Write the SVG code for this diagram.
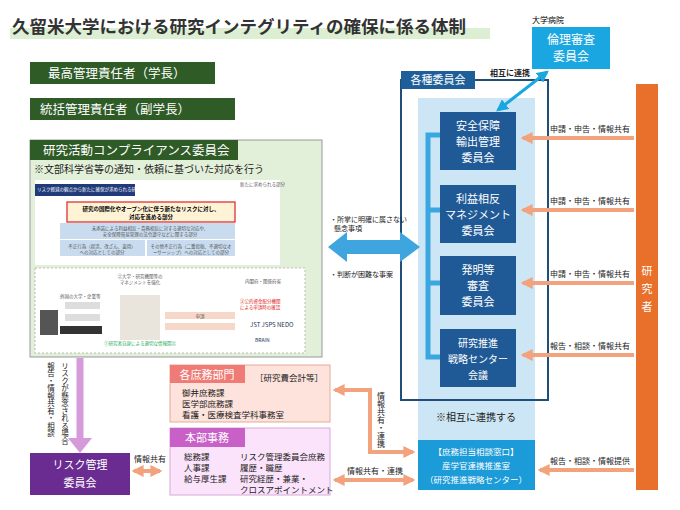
<svg xmlns="http://www.w3.org/2000/svg" width="680" height="510" viewBox="0 0 680 510">
<style>
text{font-family:"Noto Sans CJK JP","Noto Sans",sans-serif}
.w{fill:#fff}
.dg{fill:#2f5b27}
.cm{fill:#1f5a96}
.oa{stroke:#f2a27c;stroke-width:4;fill:none}
.lbl{font-size:8px;fill:#222}
.t12{font-size:12px}
.tiny{font-size:4.5px;fill:#555}
</style>
<defs>
<marker id="oh" viewBox="0 0 10 10" refX="8" refY="5" markerWidth="3" markerHeight="3" orient="auto-start-reverse"><path d="M0,0L10,5L0,10z" fill="#f2a27c"/></marker>
<marker id="bh" viewBox="0 0 10 10" refX="8" refY="5" markerWidth="4" markerHeight="4" orient="auto-start-reverse"><path d="M0,0L10,5L0,10z" fill="#1aa6e0"/></marker>
</defs>
<rect x="10" y="28" width="480" height="11" fill="#dcefd3"/>
<text x="12" y="33" font-size="17.5" font-weight="bold" fill="#333">久留米大学における研究インテグリティの確保に係る体制</text>

<g id="hosp"><text x="532" y="23" font-size="8">大学病院</text>
<rect x="532" y="27" width="78" height="42" fill="#1aa6e0"/>
<text x="571" y="44" text-anchor="middle" class="w t12">倫理審査</text><text x="571" y="61" text-anchor="middle" class="w t12">委員会</text></g>

<g id="panel">
<rect x="418" y="98" width="117" height="342" fill="#cde6f5"/>
<rect x="401" y="80" width="147" height="320" fill="none" stroke="#1f4e79" stroke-width="2"/>
<rect x="401" y="71" width="74" height="18" fill="#1f5f99"/>
<text x="438" y="84" text-anchor="middle" class="w" font-size="11">各種委員会</text>
<path d="M440,135H428V357H440M428,210H440M428,283H440" stroke="#3aa7e0" stroke-width="5" fill="none"/>
<text x="476" y="421" text-anchor="middle" font-size="10" fill="#222">※相互に連携する</text>
</g>
<g id="c1"><rect x="440" y="112" width="76" height="58" class="cm"/><text x="478" y="130" text-anchor="middle" class="w" font-size="11">安全保障</text><text x="478" y="146" text-anchor="middle" class="w" font-size="11">輸出管理</text><text x="478" y="162" text-anchor="middle" class="w" font-size="11">委員会</text></g>
<g id="c2"><rect x="440" y="185" width="76" height="58" class="cm"/><text x="478" y="203" text-anchor="middle" class="w" font-size="11">利益相反</text><text x="478" y="219" text-anchor="middle" class="w" font-size="11">マネジメント</text><text x="478" y="235" text-anchor="middle" class="w" font-size="11">委員会</text></g>
<g id="c3"><rect x="440" y="256" width="76" height="59" class="cm"/><text x="478" y="274" text-anchor="middle" class="w" font-size="11">発明等</text><text x="478" y="290" text-anchor="middle" class="w" font-size="11">審査</text><text x="478" y="306" text-anchor="middle" class="w" font-size="11">委員会</text></g>
<g id="c4"><rect x="440" y="329" width="76" height="58" class="cm"/><text x="478" y="347" text-anchor="middle" class="w" font-size="10">研究推進</text><text x="478" y="363" text-anchor="middle" class="w" font-size="10">戦略センター</text><text x="478" y="379" text-anchor="middle" class="w" font-size="10">会議</text></g>
<g id="desk"><rect x="418" y="440" width="117" height="50" fill="#1b9bd7"/>
<text x="476" y="455" text-anchor="middle" class="w" font-size="8.5">【庶務担当相談窓口】</text>
<text x="476" y="469" text-anchor="middle" class="w" font-size="8.5">産学官連携推進室</text>
<text x="476" y="483" text-anchor="middle" class="w" font-size="8.5">（研究推進戦略センター）</text></g>
<g id="researcher"><rect x="636" y="84" width="22" height="406" fill="#e8702a"/>
<text x="647" y="275" text-anchor="middle" class="w" font-size="11">研</text><text x="647" y="293" text-anchor="middle" class="w" font-size="11">究</text><text x="647" y="311" text-anchor="middle" class="w" font-size="11">者</text></g>

<g id="top1"><rect x="30" y="62" width="185" height="22" class="dg"/><text x="48" y="78" class="w" font-size="12.5">最高管理責任者（学長）</text></g>
<g id="top2"><rect x="30" y="98" width="205" height="22" class="dg"/><text x="40" y="114" class="w" font-size="12.5">統括管理責任者（副学長）</text></g>
<g id="compliance">
<rect x="30" y="140" width="292" height="217" fill="#e2f0d9" stroke="#999"/>
<rect x="30" y="140" width="208" height="20" class="dg"/>
<text x="43" y="155" class="w" font-size="12.5">研究活動コンプライアンス委員会</text>
<text x="34" y="173" font-size="10" fill="#222">※文部科学省等の通知・依頼に基づいた対応を行う</text>
<rect x="35" y="180" width="245" height="85" fill="#fff"/>
<rect x="35" y="184" width="100" height="12" fill="#203a7a"/>
<text x="37" y="191" font-size="4.5" class="w">リスク軽減の観点から新たに確保が求められる研究インテグリティ</text>
<rect x="67" y="202" width="168" height="20" fill="#fff3d6" stroke="#d22" stroke-width="1.2"/>
<text x="151" y="211" text-anchor="middle" font-size="5.5" font-weight="bold">研究の国際化やオープン化に伴う新たなリスクに対し、</text>
<text x="151" y="219" text-anchor="middle" font-size="5.5" font-weight="bold">対応を進める部分</text>
<rect x="60" y="223" width="175" height="16" fill="#c9dcef"/>
<rect x="60" y="240" width="85" height="16" fill="#c9dcef"/><rect x="147" y="240" width="88" height="16" fill="#c9dcef"/>
<text x="150" y="230" text-anchor="middle" class="tiny">未承諾による利益相反・責務相反に対する適切な対応や、</text>
<text x="150" y="236" text-anchor="middle" class="tiny">安全保障貿易管理の法令遵守などに関する部分</text>
<text x="102" y="248" text-anchor="middle" class="tiny">不正行為（捏造、改ざん、盗用）</text>
<text x="102" y="254" text-anchor="middle" class="tiny">への対応としての部分</text>
<text x="191" y="248" text-anchor="middle" class="tiny">その他不正行為（二重投稿、不適切なオ</text>
<text x="191" y="254" text-anchor="middle" class="tiny">ーサーシップ）への対応としての部分</text>
<text x="240" y="186" class="tiny">新たに求められる部分</text>
<rect x="35" y="268" width="270" height="85" fill="#fff" stroke="#bbb" stroke-dasharray="2 2"/>
<text x="60" y="298" class="tiny">外国の大学・企業等</text>
<rect x="65" y="302" width="35" height="7" fill="#ddd"/><rect x="65" y="314" width="35" height="7" fill="#ddd"/><rect x="60" y="326" width="42" height="8" fill="#333"/>
<rect x="40" y="310" width="18" height="25" fill="#555"/>
<rect x="120" y="295" width="40" height="45" fill="#e9e4dc"/>
<text x="140" y="278" text-anchor="middle" class="tiny">②大学・研究機関等の</text>
<text x="140" y="284" text-anchor="middle" class="tiny">マネジメントを強化</text>
<text x="140" y="345" text-anchor="middle" font-size="4.5" fill="#2a5">①研究者自身による適切な情報開示</text>
<rect x="165" y="312" width="70" height="7" fill="#f7d8c8"/><rect x="165" y="323" width="70" height="7" fill="#f7d8c8"/>
<text x="200" y="318" text-anchor="middle" class="tiny">申請</text>
<text x="245" y="283" class="tiny">内閣府・関係府省</text>
<text x="240" y="303" font-size="4.5" fill="#d22">③公的資金配分機関</text>
<text x="240" y="309" font-size="4.5" fill="#d22">による申請時の確認</text>
<text x="250" y="327" font-size="6" fill="#235">JST JSPS NEDO</text>
<text x="255" y="342" font-size="5" fill="#235">BRAIN</text>
</g>

<g id="shomu"><rect x="170" y="365" width="160" height="57" fill="#fde3dc" stroke="#e8a898"/>
<rect x="170" y="365" width="75" height="18" fill="#f07a76"/>
<text x="207" y="379" text-anchor="middle" class="w" font-size="11">各庶務部門</text>
<text x="255" y="381" font-size="8.5" fill="#222">［研究費会計等］</text>
<text x="182" y="396" font-size="8.5" fill="#222">御井庶務課</text>
<text x="182" y="407" font-size="8.5" fill="#222">医学部庶務課</text>
<text x="182" y="418" font-size="8.5" fill="#222">看護・医療検査学科事務室</text></g>
<g id="honbu"><rect x="170" y="428" width="160" height="67" fill="#fbe3fb" stroke="#d9a8d9"/>
<rect x="170" y="428" width="75" height="19" fill="#c860c8"/>
<text x="207" y="442" text-anchor="middle" class="w" font-size="11">本部事務</text>
<text x="184" y="460" font-size="8.5" fill="#222">総務課</text>
<text x="184" y="471" font-size="8.5" fill="#222">人事課</text>
<text x="184" y="482" font-size="8.5" fill="#222">給与厚生課</text>
<text x="240" y="460" font-size="8.5" fill="#222">リスク管理委員会庶務</text>
<text x="240" y="471" font-size="8.5" fill="#222">履歴・職歴</text>
<text x="240" y="482" font-size="8.5" fill="#222">研究経歴・兼業・</text>
<text x="240" y="493" font-size="8.5" fill="#222">クロスアポイントメント</text></g>
<g id="risk"><rect x="30" y="453" width="100" height="42" fill="#6a2c91"/>
<text x="80" y="469" text-anchor="middle" class="w" font-size="11">リスク管理</text>
<text x="80" y="487" text-anchor="middle" class="w" font-size="11">委員会</text></g>

<g id="connectors">
<path d="M80,358V440" stroke="#d49ad9" stroke-width="7"/>
<path d="M68,438H92L80,453z" fill="#d49ad9"/>
<text x="51" y="362" writing-mode="tb" font-size="7.5" fill="#222">報告・情報共有・相談</text>
<text x="65" y="362" writing-mode="tb" font-size="7.5" fill="#222">リスクが懸念される場合</text>
<path d="M134,471H160" class="oa" marker-start="url(#oh)" marker-end="url(#oh)"/>
<text x="134" y="462" class="lbl">情報共有</text>
<path d="M335,390H370V452H413" class="oa" marker-start="url(#oh)" marker-end="url(#oh)"/>
<text x="381" y="392" writing-mode="tb" class="lbl">情報共有・連携</text>
<path d="M335,480H413" class="oa" marker-start="url(#oh)" marker-end="url(#oh)"/>
<text x="347" y="474" class="lbl">情報共有・連携</text>
<path d="M634,138H523" class="oa" marker-end="url(#oh)"/><text x="590" y="132" text-anchor="middle" class="lbl">申請・申告・情報共有</text>
<path d="M634,210H523" class="oa" marker-end="url(#oh)"/><text x="590" y="204" text-anchor="middle" class="lbl">申請・申告・情報共有</text>
<path d="M634,283H523" class="oa" marker-end="url(#oh)"/><text x="590" y="277" text-anchor="middle" class="lbl">申請・申告・情報共有</text>
<path d="M634,355H523" class="oa" marker-end="url(#oh)"/><text x="590" y="349" text-anchor="middle" class="lbl">報告・相談・情報共有</text>
<path d="M634,470H540" class="oa" marker-end="url(#oh)"/><text x="590" y="464" text-anchor="middle" class="lbl">報告・相談・情報提供</text>
<path d="M328,247L347,232V240H400V232L420,247L400,262V254H347V262z" fill="#3fa5df"/>
<text x="330" y="222" font-size="7" fill="#222">・所掌に明確に属さない</text>
<text x="334" y="231" font-size="7" fill="#222">懸念事項</text>
<text x="330" y="277" font-size="7" fill="#222">・判断が困難な事案</text>
<path d="M547,72L498,110" stroke="#1aa6e0" stroke-width="3" marker-start="url(#bh)" marker-end="url(#bh)"/>
<text x="490" y="76" font-size="8" font-weight="bold" fill="#222">相互に連携</text>
</g>
</svg>
